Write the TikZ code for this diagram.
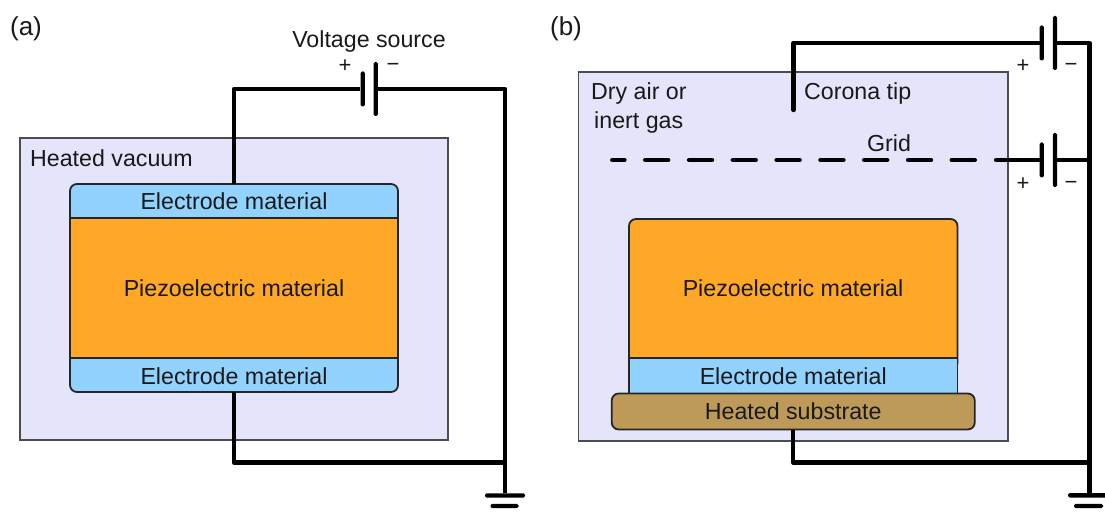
\documentclass[tikz,border=0pt]{standalone}
\usepackage{fontspec}
\setmainfont{Liberation Sans}
\usetikzlibrary{calc}

\definecolor{chamber}{HTML}{E4E4FB}
\definecolor{electrode}{HTML}{92D2FF}
\definecolor{piezo}{HTML}{FFA726}
\definecolor{substrate}{HTML}{BD9A58}

\begin{document}
\begin{tikzpicture}[
    x=1pt, y=-1pt,
    label text/.style={font=\fontsize{23.2}{29}\selectfont, text=black!90, inner sep=0pt, align=left},
    panel text/.style={font=\fontsize{26}{30}\selectfont, text=black!90, inner sep=0pt},
    sign text/.style={font=\fontsize{22}{24}\selectfont, text=black!90, inner sep=0pt},
    chamber box/.style={draw=black!70, line width=1.8pt, fill=chamber},
    layer box/.style={draw=black!85, line width=1.8pt, fill=#1},
    layer rounded/.style={layer box=#1, rounded corners=7pt},
    wire/.style={line width=4.4pt, black, line join=round},
    grid wire/.style={wire, dash pattern=on 23pt off 20.8pt, dash phase=10.8pt, line cap=round},
    plate/.style={fill=black, draw=none, inner sep=0pt, minimum width=4.4pt, rounded corners=1.5pt, minimum height=#1},
    bar/.style={fill=black, draw=none, inner sep=0pt, minimum height=4.4pt, rounded corners=1.5pt, minimum width=#1}
]
\useasboundingbox (0,0) rectangle (1105,513);

% Panel labels
\node[panel text] (panelA) at (26,29) {(a)};
\node[panel text] (panelB) at (566,29) {(b)};

% Panel (a)
\draw[chamber box] (20,138) rectangle (448,440);
\node[label text, anchor=west] (vacuum) at (30,158) {Heated vacuum};

\draw[layer rounded=electrode] (70,230) |- (398,184) -- (398,230) -- cycle;
\draw[layer rounded=electrode] (70,345) |- (398,392) -- (398,345) -- cycle;
\node[layer box=piezo, minimum width=328pt, minimum height=140pt, inner sep=0pt, label text] (piezoA) at (234,288) {Piezoelectric material};
\node[label text] (topA) at (234,201.5) {Electrode material};
\node[label text] (botA) at (234,376) {Electrode material};
\coordinate (topAedge) at (234,184);
\coordinate (botAedge) at (234,392);

\node[label text] (sourceA) at (369,41.5) {Voltage source};
\node[sign text] (plusA) at (345,66) {+};
\node[sign text] (minusA) at (393,67.5) {\textminus};
\node[plate=35pt] (posA) at (362.7,89) {};
\node[plate=54pt] (negA) at (375.7,89) {};
\coordinate (cornerA) at (505,462.5);
\node[bar=40pt] (earthA1) at (505,495.5) {};
\node[bar=28pt] (earthA2) at (504.5,506) {};

\draw[wire] (topAedge) |- (posA.west);
\draw[wire] (negA.east) -| (cornerA);
\draw[wire] (botAedge) |- (cornerA) -- (earthA1.north);

% Panel (b)
\draw[chamber box] (578.5,72) rectangle (1008,441);
\node[label text, anchor=west] (gasA) at (591,94) {Dry air or};
\node[label text, anchor=west] (gasB) at (594,123) {inert gas};
\node[label text, anchor=west] (tipText) at (804,93.5) {Corona tip};
\node[label text] (gridText) at (889,143) {Grid};

\draw[layer rounded=piezo] (629,370) |- (957.5,219) -- (957.5,370) -- cycle;
\node[label text] (piezoB) at (793,288) {Piezoelectric material};
\node[layer box=electrode, minimum width=328.5pt, minimum height=36pt, inner sep=0pt, label text] (elecB) at (793.25,376) {Electrode material};
\node[layer rounded=substrate, minimum width=363pt, minimum height=36pt, inner sep=0pt, label text] (subB) at (793.25,411.5) {Heated substrate};

\coordinate (tipEnd) at (793.5,110);
\node[plate=35pt] (posB1) at (1041.7,43) {};
\node[plate=54pt] (negB1) at (1055,43) {};
\node[plate=35pt] (posB2) at (1041.7,160) {};
\node[plate=54pt] (negB2) at (1055,160) {};
\node[sign text] (plusB1) at (1023,66) {+};
\node[sign text] (minusB1) at (1071,67.5) {\textminus};
\node[sign text] (plusB2) at (1023,184) {+};
\node[sign text] (minusB2) at (1071,185.5) {\textminus};
\coordinate (gridEnd) at (612.2,160);
\coordinate (gridGap) at (975,160);
\coordinate (gridStub) at (996,160);
\coordinate (cornerB) at (1089.3,462.3);
\node[bar=40pt] (earthB1) at (1088,495.3) {};
\node[bar=29pt] (earthB2) at (1088.5,506) {};

\draw[wire, line cap=round] (tipEnd) |- (posB1.west);
\draw[wire] (negB1.east) -| (cornerB);
\draw[wire] (negB2.east) -- (cornerB |- negB2);
\draw[grid wire] (gridEnd) -- (gridGap);
\draw[wire, line cap=round] (gridStub) -- (posB2.west);
\draw[wire] (subB.south) |- (cornerB) -- (cornerB |- earthB1.north);

\end{tikzpicture}
\end{document}
